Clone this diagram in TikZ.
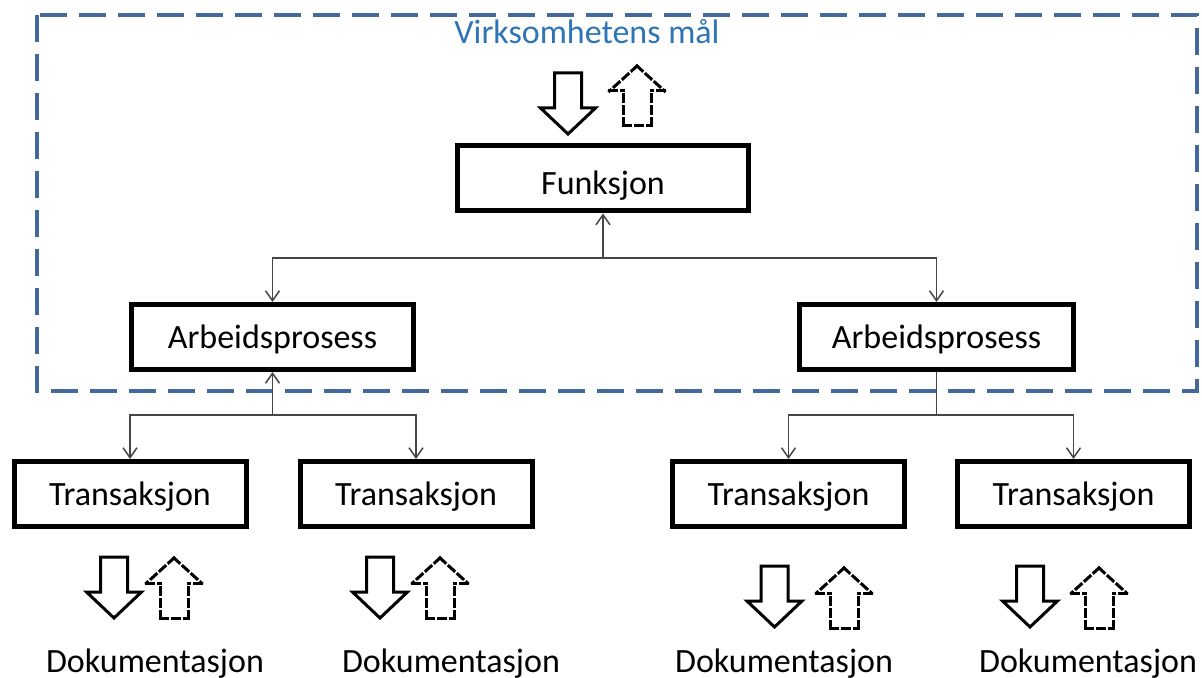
\documentclass[tikz,border=0pt]{standalone}
\usepackage{fontspec}
\setmainfont{Carlito}
\usetikzlibrary{arrows.meta}
\definecolor{frameblue}{RGB}{66,104,156}
\definecolor{titleblue}{RGB}{46,117,182}
\definecolor{connGray}{RGB}{70,70,70}
\begin{document}
\begin{tikzpicture}[x=0.5pt,y=-0.5pt,
  every node/.style={font=\fontsize{17}{20}\selectfont, inner sep=0pt, text height=11pt, text depth=0pt},
  box/.style={draw=black, line width=2.5pt, fill=white, minimum height=32.5pt},
  conn/.style={draw=connGray, line width=0.75pt},
  tipV/.style={-{Straight Barb[length=5pt,width=7pt,line width=0.75pt]}},
  blockline/.style={draw=black, line width=1.5pt, line join=miter},
  dashblock/.style={draw=black, line width=1.5pt, line cap=rect, dash pattern=on 3.5pt off 2.5pt},
  downblock/.pic={\draw[blockline] (-13.5,0) -- (13.5,0) -- (13.5,35) -- (27.5,35) -- (0,61) -- (-27.5,35) -- (-13.5,35) -- cycle;},
  upblock/.pic={
    \draw[dashblock] (0,0) -- (27.5,25);
    \draw[dashblock] (0,0) -- (-27.5,25);
    \draw[dashblock] (27.5,25) -- (14,25);
    \draw[dashblock] (-27.5,25) -- (-14,25);
    \draw[dashblock] (14,60) -- (14,25);
    \draw[dashblock] (-14,60) -- (-14,25);
    \draw[dashblock] (-14,60) -- (14,60);
  }
]
\useasboundingbox (0,0) rectangle (1202,678);

% frame
\draw[frameblue, line width=2pt, dash pattern=on 13.5pt off 6pt] (37,15) rectangle (1197,391);
\node[text=titleblue] (title) at (587,33) {Virksomhetens mål};

% boxes
\node[box, minimum width=145.5pt, text height=16pt] (F) at (603,178.5) {Funksjon};
\node[box, minimum width=141pt] (A1) at (272.5,337) {Arbeidsprosess};
\node[box, minimum width=137pt] (A2) at (936.5,337) {Arbeidsprosess};
\node[box, minimum width=116pt] (T1) at (130,494) {Transaksjon};
\node[box, minimum width=116pt] (T2) at (416,494) {Transaksjon};
\node[box, minimum width=116pt] (T3) at (788.5,494) {Transaksjon};
\node[box, minimum width=116pt] (T4) at (1073.5,494) {Transaksjon};

% connectors
\coordinate (j1) at (603,258);
\coordinate (j2) at (272.5,415);
\coordinate (j3) at (936.5,415);
\draw[conn,tipV] (j1) -- (F.south);
\draw[conn,tipV] (j1) -| (A1.north);
\draw[conn,tipV] (j1) -| (A2.north);
\draw[conn,tipV] (j2) -- (A1.south);
\draw[conn,tipV] (j2) -| (T1.north);
\draw[conn,tipV] (j2) -| (T2.north);
\draw[conn] (A2.south) -- (j3);
\draw[conn,tipV] (j3) -| (T3.north);
\draw[conn,tipV] (j3) -| (T4.north);

% block arrows
\pic at (568,73) {downblock};
\pic at (637,66) {upblock};
\pic at (114,557) {downblock};
\pic at (174,558) {upblock};
\pic at (380,557) {downblock};
\pic at (440,558) {upblock};
\pic at (774.5,566) {downblock};
\pic at (844,568) {upblock};
\pic at (1030,566) {downblock};
\pic at (1099,568) {upblock};

% documentation labels
\node[anchor=base] (D1) at (155,672) {Dokumentasjon};
\node[anchor=base] (D2) at (451,672) {Dokumentasjon};
\node[anchor=base] (D3) at (784,672) {Dokumentasjon};
\node[anchor=base] (D4) at (1088,672) {Dokumentasjon};
\end{tikzpicture}
\end{document}
